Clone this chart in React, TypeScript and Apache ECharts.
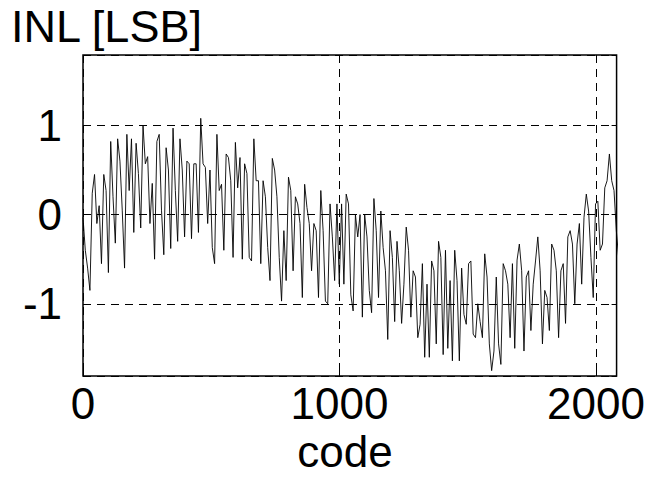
import React, { useEffect, useRef } from "react";
import * as echarts from "echarts";

// INL values, one every STEP codes, in four stretches
const inlPart1 = [
  -0.03, -0.4, -0.6, -0.85, 0.24, 0.45, -0.1, 0.1, -0.55, 0.45, 0.27, -0.65, 0.82, 0.2,
  -0.32, 0.85, 0.6, 0.05, -0.6, 0.9, 0.27, 0.85, -0.2, 0.8, 0.46, -0.15, 1.0, 0.57,
  0.65, -0.1, 0.35, -0.5, 0.82, 0.9, 0.05, -0.45, 0.75, 0.5, -0.38, 0.97, 0.27, -0.3,
  0.85, 0.5, -0.25, 0.6, 0.57, -0.27, 0.57, 0.57, -0.2, 1.08, 0.57, 0.53, -0.1, 0.5,
];
const inlPart2 = [
  -0.37, -0.55, 0.9, 0.27, 0.34, -0.4, 0.68, 0.64, 0.38, -0.48, 0.81, 0.3, 0.64, -0.5,
  0.57, 0.46, -0.48, -0.52, 0.85, 0.38, 0.38, -0.55, 0.38, 0.2, -0.37, -0.74, 0.63, 0.5,
  0.2, -0.48, -0.97, -0.18, -0.74, 0.42, 0.27, -0.63, 0.2, 0.12, -0.1, -0.93, 0.34, 0.08,
  -0.1, -0.63, -0.1, -0.18, -0.93, 0.27, -0.18, -0.97, -1.0, 0.12, -0.25, -0.74, 0.12,
  -0.78, 0.12, -0.78, 0.23, 0.12,
];
const inlPart3 = [
  -0.9, -1.08, 0.0, -0.25, 0.0, -1.15, 0.0, -0.25, -0.85, -1.1, 0.18, -0.18, -0.93, 0.04,
  -0.37, -0.63, -1.4, -0.18, -0.48, -1.2, -0.3, -0.63, -1.22, -0.78, -0.14, -0.4, -1.15,
  -0.63, -0.7, -1.38, -1.23, -0.55, -1.6, -0.78, -1.6, -0.52, -0.63, -1.45, -0.3, -0.48,
  -1.57, -0.4, -1.5, -0.74, -1.64, -0.4, -0.74, -1.64, -0.6, -1.12, -1.23, -0.55, -0.52,
  -1.34, -1.38,
];
const inlPart4 = [
  -1.0, -1.2, -1.38, -0.44, -0.7, -1.45, -1.75, -1.53, -0.7, -1.45, -1.68, -0.55, -0.63,
  -0.78, -1.38, -0.55, -1.5, -0.51, -0.33, -0.63, -1.53, -0.7, -0.63, -1.3, -0.78, -0.52,
  -0.25, -0.63, -1.45, -0.85, -0.93, -1.3, -0.33, -0.4, -0.63, -1.38, -0.63, -0.55, -1.22,
  -0.25, -0.18, -0.33, -1.0, -0.33, -0.1, -0.78, -0.03, 0.23, 0.04, -0.48, -0.93, 0.12,
  0.15, -0.4, -0.33, 0.3, 0.38, 0.68, 0.38, 0.27, -0.18, -0.48, -0.4,
];
const STEP = 9; // codes between successive samples
const inlValues = [...inlPart1, ...inlPart2, ...inlPart3, ...inlPart4];

const xTickLabels = ["0", "1000", "2000"];
const yTickLabels = ["-1", "0", "1"];
const yTitle = "INL [LSB]";
const xTitle = "code";

export default function App() {
  const ref = useRef<HTMLDivElement>(null);
  useEffect(() => {
    if (!ref.current) return;
    const chart = echarts.init(ref.current, null, { renderer: "svg" });
    const data = inlValues.map((v, i) => [i * STEP, v]);
    const font = "Liberation Sans, Arial, sans-serif";
    const dashed = { show: true, lineStyle: { color: "#000", width: 1, type: [8, 6] as any } };
    const tick = { show: true, inside: true, length: 5, lineStyle: { color: "#000", width: 1 } };
    chart.setOption({
      animation: false,
      backgroundColor: "#fff",
      grid: {
        left: 83,
        top: 55,
        width: 534,
        height: 321,
        containLabel: false,
        show: true,
        borderColor: "#000",
        borderWidth: 1.5,
        backgroundColor: "transparent",
      },
      xAxis: [
        {
          type: "value",
          min: 0,
          max: 2080,
          interval: 1000,
          axisLine: { show: false, onZero: false },
          axisTick: tick,
          axisLabel: {
            show: true,
            color: "#000",
            fontSize: 44,
            lineHeight: 32,
            fontFamily: font,
            margin: 11,
            showMaxLabel: false,
            formatter: (v: number) => (xTickLabels.includes(String(v)) ? String(v) : ""),
          },
          splitLine: dashed,
        },
        {
          type: "value",
          position: "top",
          min: 0,
          max: 2080,
          interval: 1000,
          axisLine: { show: false, onZero: false },
          axisTick: tick,
          axisLabel: { show: false },
          splitLine: { show: false },
        },
      ],
      yAxis: [
        {
          type: "value",
          min: -1.81,
          max: 1.79,
          splitNumber: 4,
          axisLine: { show: false, onZero: false },
          axisTick: tick,
          axisLabel: {
            show: true,
            color: "#000",
            fontSize: 44,
            lineHeight: 34,
            fontFamily: font,
            margin: 21,
            showMinLabel: false,
            showMaxLabel: false,
            formatter: (v: number) => (yTickLabels.includes(String(v)) ? String(v) : ""),
          },
          splitLine: dashed,
        },
        {
          type: "value",
          position: "right",
          min: -1.81,
          max: 1.79,
          splitNumber: 4,
          axisLine: { show: false, onZero: false },
          axisTick: tick,
          axisLabel: { show: false },
          splitLine: { show: false },
        },
      ],
      graphic: [
        {
          type: "text",
          x: 11,
          y: 4,
          style: { text: yTitle, font: `45px ${font}`, fill: "#000" },
        },
        {
          type: "text",
          x: 345,
          y: 433,
          style: {
            text: xTitle,
            font: `44px ${font}`,
            lineHeight: 36,
            fill: "#000",
            textAlign: "center",
          },
        },
      ],
      series: [
        {
          type: "line",
          data,
          showSymbol: false,
          symbol: "none",
          lineStyle: { color: "#000", width: 0.9 },
          clip: true,
        },
      ],
    });
    return () => chart.dispose();
  }, []);
  return (
    <div
      ref={ref}
      style={{ position: "fixed", left: 0, top: 0, width: 648, height: 480 }}
    />
  );
}
